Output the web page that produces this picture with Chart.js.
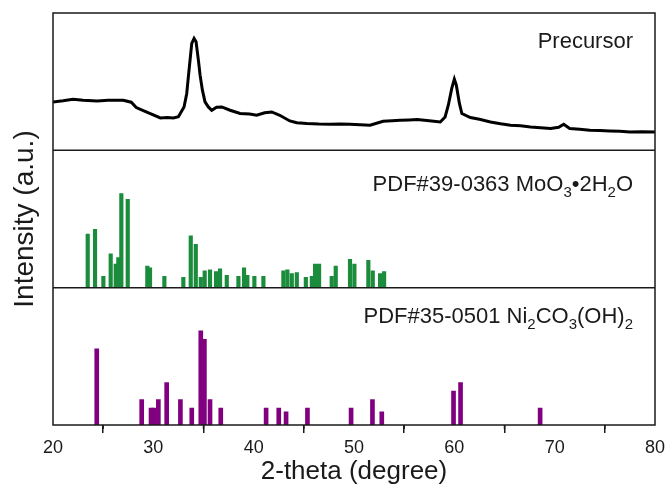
<!DOCTYPE html>
<html>
<head>
<meta charset="utf-8">
<script src="https://cdn.jsdelivr.net/npm/chart.js@4"></script>
<style>
  body { margin: 0; background: #fff; }
  #wrap { width: 670px; height: 487px; }
</style>
</head>
<body>
<div id="wrap"><canvas id="xrd"></canvas></div>
<script>
// Precursor pattern (2-theta, intensity a.u.)
const precursorX = [20, 21, 22, 23, 24.4, 25.5, 27, 27.8, 28.3, 29, 29.7, 30.7, 31.4, 32, 32.5, 33.06, 33.33, 33.49, 33.66, 33.83, 34.06, 34.26, 34.49, 34.66, 34.89, 35.15, 35.48, 35.82, 36.3, 36.82, 37.65, 38.65, 39.6, 40.3, 41.1, 41.8, 42.6, 43.6, 44.3, 45.3, 46.5, 47.6, 48.6, 49.6, 50.6, 51.6, 52.9, 53.8, 54.6, 55.5, 56.3, 57.5, 58.6, 59.08, 59.4, 59.75, 60.0, 60.2, 60.5, 60.75, 61.6, 62.5, 63.6, 64.6, 65.6, 66.6, 67.6, 68.6, 69.6, 70.4, 70.9, 71.5, 72.5, 73.5, 74.5, 75.5, 76.5, 77.5, 78.7, 80];
const precursorY = [48.3, 49.5, 51, 50, 49.3, 50, 50, 48, 42.7, 39.5, 36.7, 32.3, 32.8, 32.3, 33.5, 43.3, 56.7, 73.3, 90, 106.7, 111.7, 108.3, 90, 75, 60, 48.3, 43.3, 40, 43, 43.3, 40, 36.7, 36.2, 35, 37.5, 38.3, 35, 29.3, 27.5, 26.7, 26.2, 26, 26.3, 26, 25.5, 25, 29, 29.5, 30, 30.3, 30.7, 29.5, 28.3, 33.3, 45, 62, 71, 65, 47, 36.7, 32.7, 31, 28.3, 26.5, 25, 24.5, 23.3, 22.5, 21.7, 23, 26, 21.7, 21, 20, 19.8, 19.3, 19, 18.3, 18.5, 18.3];

// PDF#39-0363 MoO3·2H2O reference lines
const moPeaks = [23.46, 24.19, 25.02, 25.75, 26.25, 26.51, 26.81, 27.45, 29.40, 29.67, 31.10, 32.99, 33.73, 34.23, 34.73, 35.12, 35.65, 36.25, 36.65, 37.32, 38.48, 39.04, 39.37, 40.07, 40.97, 42.96, 43.36, 43.8, 44.3, 45.2, 45.8, 46.12, 46.52, 47.78, 48.18, 49.6, 50.04, 51.43, 51.87, 52.6, 53.0];
const moInt = [57, 62, 12, 36, 25, 32, 100, 94, 23, 21, 12, 11, 55, 46, 11, 18, 19, 17, 20, 13, 12, 21, 13, 12, 12, 18, 19, 15, 16, 11, 12, 25, 25, 12, 23, 30, 25, 29, 18, 15, 17];

// PDF#35-0501 Ni2CO3(OH)2 reference lines
const niPeaks = [24.36, 28.84, 29.77, 30.05, 30.5, 31.33, 32.7, 33.83, 34.73, 35.09, 35.65, 36.72, 41.24, 42.5, 43.23, 45.36, 49.71, 51.84, 52.77, 59.92, 60.62, 68.55];
const niInt = [81, 27, 18, 18, 27, 45, 27, 18, 100, 91, 27, 18, 18, 18, 14, 18, 18, 27, 14, 36, 45, 18];

const ink = '#1a1a1a';
const green = '#1a8c3c';
const purple = '#800080';
const fontFamily = '"Liberation Sans", Arial, sans-serif';

const toPoints = (xs, ys) => xs.map((x, i) => ({ x: x, y: ys[i] }));

// frame, panel dividers, minor ticks and the labels with subscripts
const framePlugin = {
  id: 'frame',
  afterDraw(chart) {
    const { ctx, chartArea, scales } = chart;
    ctx.save();
    ctx.strokeStyle = ink;
    ctx.lineWidth = 1.5;
    ctx.strokeRect(chartArea.left, chartArea.top, chartArea.right - chartArea.left, chartArea.bottom - chartArea.top);
    [scales.yMo.bottom, scales.yPre.bottom].forEach((y) => {
      ctx.beginPath();
      ctx.moveTo(chartArea.left, y);
      ctx.lineTo(chartArea.right, y);
      ctx.stroke();
    });
    // minor ticks
    for (let v = 25; v < 80; v += 10) {
      const px = scales.x.getPixelForValue(v);
      ctx.beginPath();
      ctx.moveTo(px, chartArea.bottom);
      ctx.lineTo(px, chartArea.bottom + 4);
      ctx.stroke();
    }

    const drawLabel = (parts, right, y) => {
      const big = '22px ' + fontFamily;
      const small = '15px ' + fontFamily;
      let total = 0;
      parts.forEach((p) => {
        ctx.font = p.sub ? small : big;
        total += ctx.measureText(p.t).width;
      });
      let x = right - total;
      ctx.fillStyle = ink;
      ctx.textAlign = 'left';
      ctx.textBaseline = 'middle';
      parts.forEach((p) => {
        ctx.font = p.sub ? small : big;
        ctx.fillText(p.t, x, p.sub ? y + 8 : y);
        x += ctx.measureText(p.t).width;
      });
    };
    const right = chartArea.right - 22;
    drawLabel([{ t: 'Precursor' }], right, scales.yPre.top + 29);
    drawLabel([{ t: 'PDF#39-0363 MoO' }, { t: '3', sub: true }, { t: '•2H' }, { t: '2', sub: true }, { t: 'O' }], right, scales.yMo.top + 35);
    drawLabel([{ t: 'PDF#35-0501 Ni' }, { t: '2', sub: true }, { t: 'CO' }, { t: '3', sub: true }, { t: '(OH)' }, { t: '2', sub: true }], right, scales.yNi.top + 29);

    // y title across all panels
    ctx.save();
    ctx.translate(25, (chartArea.top + chartArea.bottom) / 2);
    ctx.rotate(-Math.PI / 2);
    ctx.font = '28px ' + fontFamily;
    ctx.fillStyle = ink;
    ctx.textAlign = 'center';
    ctx.textBaseline = 'middle';
    ctx.fillText('Intensity (a.u.)', 0, 0);
    ctx.restore();
    ctx.restore();
  }
};

const panelAxis = (max) => ({
  type: 'linear',
  position: 'left',
  stack: 'xrd',
  stackWeight: 1,
  min: 0,
  max: max,
  offset: false,
  ticks: { display: false },
  grid: { display: false, drawTicks: false },
  border: { display: false }
});

new Chart(document.getElementById('xrd'), {
  type: 'line',
  data: {
    datasets: [
      {
        type: 'bar',
        label: 'Ni2CO3(OH)2',
        data: toPoints(niPeaks, niInt),
        yAxisID: 'yNi',
        backgroundColor: purple,
        barThickness: 4,
        grouped: false
      },
      {
        type: 'bar',
        label: 'MoO3·2H2O',
        data: toPoints(moPeaks, moInt),
        yAxisID: 'yMo',
        backgroundColor: green,
        barThickness: 3.5,
        grouped: false
      },
      {
        type: 'line',
        label: 'Precursor',
        data: toPoints(precursorX, precursorY),
        yAxisID: 'yPre',
        borderColor: '#000',
        borderWidth: 3,
        pointRadius: 0,
        tension: 0
      }
    ]
  },
  options: {
    responsive: true,
    maintainAspectRatio: false,
    animation: false,
    layout: { padding: { left: 53, top: 13, right: 15, bottom: 0 } },
    plugins: { legend: { display: false }, tooltip: { enabled: false } },
    scales: {
      x: {
        type: 'linear',
        position: 'bottom',
        min: 20,
        max: 80,
        offset: false,
        afterFit: (scale) => { scale.height = 62; },
        ticks: { stepSize: 10, color: ink, padding: 4, font: { family: fontFamily, size: 18 } },
        grid: { drawOnChartArea: false, drawTicks: true, tickLength: 8, color: ink, lineWidth: 1.5 },
        border: { display: false },
        title: { display: true, text: '2-theta (degree)', color: ink, padding: { top: 0, bottom: 0 }, font: { family: fontFamily, size: 26 } }
      },
      yNi: panelAxis(146),
      yMo: panelAxis(146),
      yPre: panelAxis(137)
    }
  },
  plugins: [framePlugin]
});
</script>
</body>
</html>
